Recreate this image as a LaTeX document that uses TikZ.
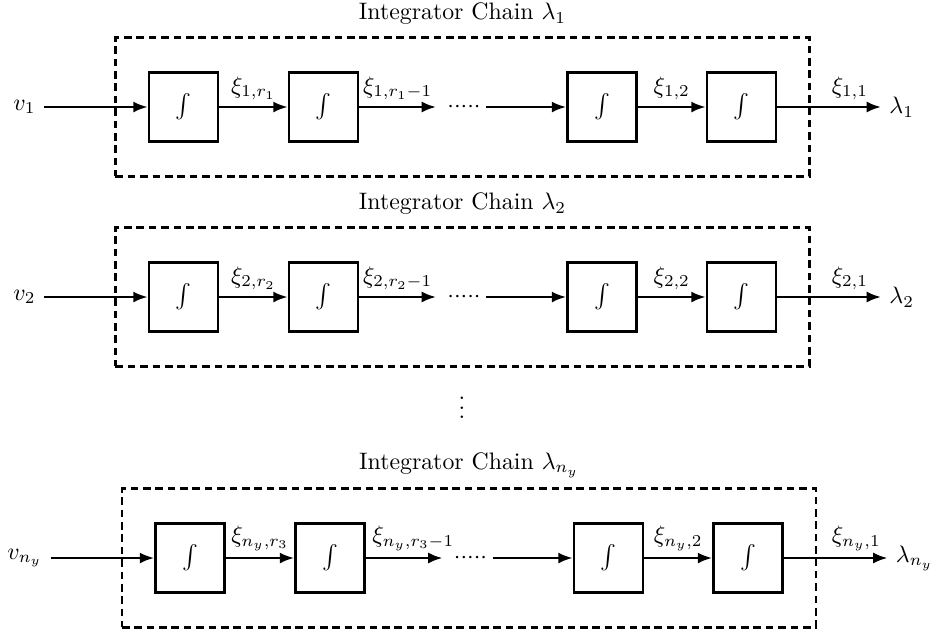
\documentclass[tikz,border=0pt]{standalone}
\usetikzlibrary{arrows.meta}
\tikzset{
  intbox/.style={draw, line width=1.1pt, minimum width=29pt, minimum height=29pt, inner sep=0pt},
  chainbox/.style={draw, line width=1.1pt, dash pattern=on 3.2pt off 2pt, minimum width=291.5pt, minimum height=58.2pt, inner sep=0pt},
  sig/.style={line width=1pt, -{Latex[length=6pt,width=4.6pt]}},
  lbl/.style={above, inner sep=2.5pt},
}
\newcommand\chainrow[7]{%
  % #1 name prefix, #2 x offset, #3 y centre, #4 index, #5 r subscript, #6 title, #7 label position
  \begin{scope}[shift={(#2,#3)}]
    \node[chainbox] (#1frame) at (462.5,0) {};
    \node (#1title) at (462.5,-93) {#6};
    \node[anchor=east] (#1in) at (44,0) {$v_{#4}$};
    \node[intbox] (#1a) at (183.5,0) {$\int$};
    \node[intbox] (#1b) at (323.5,0) {$\int$};
    \coordinate (#1c) at (436,0);
    \node[anchor=base, inner sep=0pt, yshift=-2.5pt] (#1dots) at (464,0) {${\cdot}{\cdot}{\cdot}{\cdot}{\cdot}$};
    \coordinate (#1d) at (486,0);
    \node[intbox] (#1e) at (602,0) {$\int$};
    \node[intbox] (#1f) at (741.5,0) {$\int$};
    \node[anchor=west] (#1out) at (881,0) {$\lambda_{#4}$};
    \draw[sig] (#1in.east) -- (#1a.west);
    \draw[sig] (#1a.east) -- node[lbl] {$\xi_{#4,r_{#5}}$} (#1b.west);
    \draw[sig] (#1b.east) -- node[lbl, pos=#7] {$\xi_{#4,r_{#5}-1}$} (#1c);
    \draw[sig] (#1d) -- (#1e.west);
    \draw[sig] (#1e.east) -- node[lbl] {$\xi_{#4,2}$} (#1f.west);
    \draw[sig] (#1f.east) -- node[lbl, pos=0.7] {$\xi_{#4,1}$} (#1out.west);
  \end{scope}%
}
\begin{document}
\begin{tikzpicture}[x=0.42pt, y=-0.42pt]
  \useasboundingbox (0,0) rectangle (938,632);
  \chainrow{A}{0}{107}{1}{1}{Integrator Chain $\lambda_1$}{0.5}
  \chainrow{B}{0}{297}{2}{2}{Integrator Chain $\lambda_2$}{0.5}
  \chainrow{C}{6.5}{558}{n_y}{3}{Integrator Chain $\lambda_{n_y}$}{0.62}
  \node (vd) at (462,401) {$\vdots$};
\end{tikzpicture}
\end{document}
